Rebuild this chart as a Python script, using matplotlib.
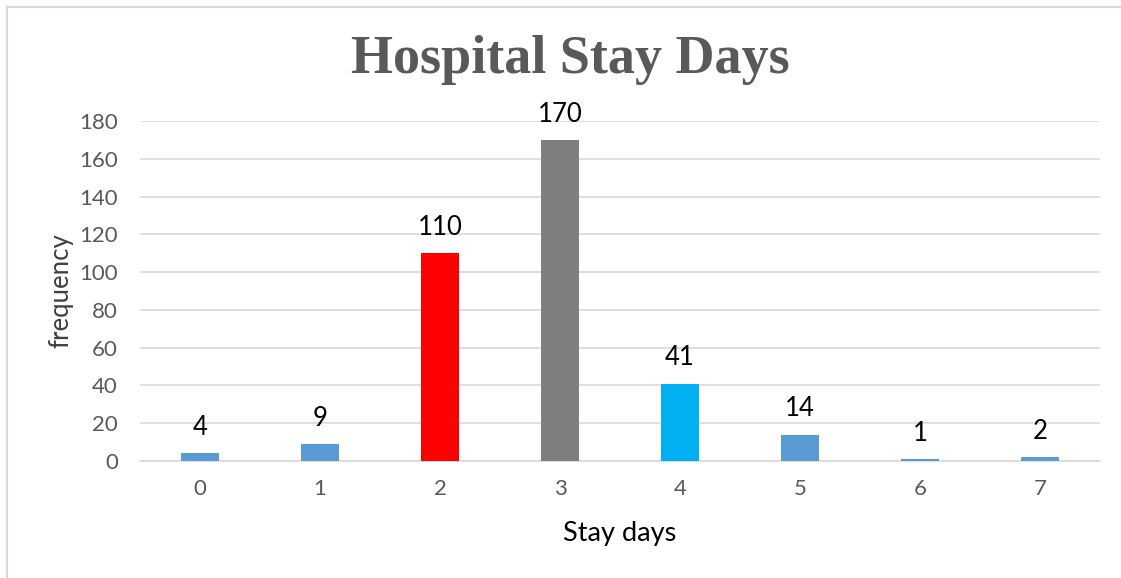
import matplotlib.pyplot as plt
from matplotlib.lines import Line2D

# Hospital stay days: frequency of patients per length of stay
stay_days = ['0', '1', '2', '3', '4', '5', '6', '7']
frequency = [4, 9, 110, 170, 41, 14, 1, 2]
bar_colors = ['#5B9BD5', '#5B9BD5', '#FF0000', '#7F7F7F',
              '#00B0F0', '#5B9BD5', '#5B9BD5', '#5B9BD5']
y_ticks = [0, 20, 40, 60, 80, 100, 120, 140, 160, 180]

fig = plt.figure(figsize=(11.21, 5.78), dpi=100)
ax = fig.add_axes([140 / 1121, 1 - 461 / 578, 960 / 1121, 340 / 578])

x = range(len(stay_days))
bars = ax.bar(x, frequency, width=0.32, color=bar_colors, zorder=3)

for xi, v in zip(x, frequency):
    ax.annotate(str(v), (xi, v), xytext=(0, 9.5), textcoords='offset points',
                ha='center', va='bottom', fontsize=18.5, family='Lato',
                color='black')

ax.set_xlim(-0.5, 7.5)
ax.set_ylim(0, 180)
ax.set_xticks(list(x))
ax.set_xticklabels(stay_days)
ax.set_yticks(y_ticks)
ax.tick_params(axis='both', length=0, labelsize=16, labelcolor='#595959')
ax.tick_params(axis='x', pad=13)
ax.tick_params(axis='y', pad=16)
for lbl in ax.get_xticklabels() + ax.get_yticklabels():
    lbl.set_family('Lato')

ax.grid(axis='y', color='#D9D9D9', linewidth=1.2, zorder=0)
for side in ['top', 'right', 'left']:
    ax.spines[side].set_visible(False)
ax.spines['bottom'].set_color('#D9D9D9')
ax.spines['bottom'].set_linewidth(1.2)

ax.set_ylabel('frequency', fontsize=18.5, family='Lato', color='#404040', labelpad=4)
ax.set_xlabel('Stay days', fontsize=19.5, family='Lato', color='black', labelpad=16)

fig.text(570 / 1121, 1 - 60 / 578, 'Hospital Stay Days', ha='center', va='center',
         fontsize=39, fontweight='bold', family='Liberation Serif', color='#595959')

# outer chart frame (top and left edges only)
fig.add_artist(Line2D([7 / 1121, 1], [1 - 7 / 578, 1 - 7 / 578], color='#D9D9D9',
                      linewidth=1.5, transform=fig.transFigure))
fig.add_artist(Line2D([7 / 1121, 7 / 1121], [0, 1 - 7 / 578], color='#D9D9D9',
                      linewidth=1.5, transform=fig.transFigure))

fig.savefig('out.png', dpi=100, facecolor='white')
